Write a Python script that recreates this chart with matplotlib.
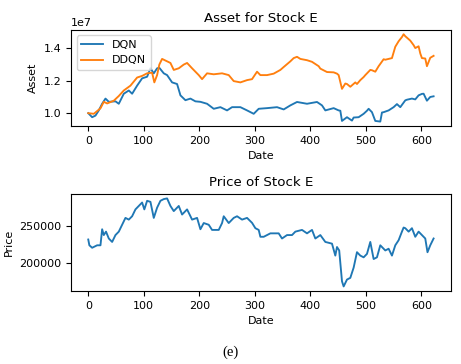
#!/usr/bin/env python3

import matplotlib
matplotlib.use("Agg")
import matplotlib.pyplot as plt

# Asset curves (values in units of 1e7)
dqn_days = [0, 7, 13, 19, 25, 31, 37, 49, 55, 64, 73, 79, 88, 97, 106, 112, 118, 124, 128,
            136, 142, 151, 160, 166, 175, 184, 193, 202, 214, 226, 238, 250, 259, 274, 286,
            298, 307, 322, 340, 352, 364, 376, 394, 412, 421, 427, 442, 451, 454, 457, 466,
            475, 478, 487, 496, 502, 505, 511, 517, 526, 529, 532, 541, 550, 556, 562, 571,
            574, 583, 589, 595, 601, 604, 610, 616, 622]
dqn_asset = [1.00, 0.975, 0.985, 1.017, 1.058, 1.09, 1.07, 1.073, 1.058, 1.12, 1.14, 1.12,
             1.17, 1.215, 1.225, 1.277, 1.246, 1.277, 1.28, 1.246, 1.235, 1.19, 1.18, 1.11,
             1.08, 1.09, 1.073, 1.07, 1.058, 1.027, 1.037, 1.017, 1.037, 1.037, 1.017, 0.996,
             1.027, 1.031, 1.037, 1.023, 1.048, 1.069, 1.058, 1.069, 1.048, 1.017, 1.031,
             1.017, 1.015, 0.952, 0.975, 0.954, 0.973, 0.975, 0.996, 1.015, 1.027, 1.006,
             0.952, 0.948, 1.004, 1.006, 1.017, 1.037, 1.056, 1.037, 1.079, 1.083, 1.09,
             1.085, 1.11, 1.119, 1.12, 1.077, 1.10, 1.104]

ddqn_days = [0, 10, 22, 28, 34, 46, 55, 64, 76, 88, 97, 106, 115, 119, 124, 128, 133, 142,
             148, 154, 163, 172, 178, 187, 199, 205, 214, 226, 241, 253, 262, 274, 286, 295,
             304, 310, 322, 334, 346, 352, 364, 370, 376, 382, 394, 403, 415, 418, 430, 442,
             448, 451, 457, 463, 466, 472, 481, 484, 490, 496, 499, 508, 511, 517, 523, 532,
             535, 547, 553, 559, 565, 568, 571, 580, 586, 589, 595, 598, 601, 607, 610, 616,
             622]
ddqn_asset = [1.00, 0.996, 1.03, 1.07, 1.06, 1.077, 1.106, 1.14, 1.17, 1.22, 1.23, 1.246,
              1.25, 1.19, 1.235, 1.30, 1.335, 1.32, 1.31, 1.267, 1.277, 1.30, 1.31, 1.277,
              1.235, 1.21, 1.246, 1.24, 1.246, 1.235, 1.198, 1.19, 1.204, 1.21, 1.256, 1.235,
              1.235, 1.244, 1.267, 1.285, 1.32, 1.34, 1.348, 1.335, 1.327, 1.317, 1.29, 1.275,
              1.254, 1.252, 1.244, 1.235, 1.15, 1.183, 1.18, 1.163, 1.19, 1.18, 1.204, 1.223,
              1.235, 1.267, 1.265, 1.256, 1.29, 1.333, 1.33, 1.34, 1.41, 1.444, 1.47, 1.4875,
              1.475, 1.448, 1.42, 1.402, 1.413, 1.369, 1.34, 1.3375, 1.29, 1.342, 1.354]

# Stock price
price_days = [0, 2, 7, 16, 22, 25, 28, 32, 37, 43, 49, 55, 61, 67, 73, 79, 85, 91, 97, 101,
              106, 112, 118, 124, 130, 136, 142, 148, 154, 163, 169, 178, 187, 196, 202, 208,
              217, 223, 235, 241, 244, 253, 262, 268, 277, 286, 295, 301, 307, 310, 316, 328,
              343, 349, 358, 367, 373, 385, 394, 403, 409, 418, 427, 439, 445, 448, 452, 457,
              460, 466, 472, 478, 484, 490, 496, 502, 508, 514, 520, 526, 535, 541, 547, 553,
              559, 565, 568, 571, 577, 583, 589, 595, 601, 607, 611, 616, 622]
price = [231650, 223900, 220600, 223900, 223900, 245400, 237600, 242200, 233000, 228400,
         237600, 242200, 251400, 260600, 258300, 262800, 272000, 276600, 281200, 272000,
         283500, 282100, 260600, 274300, 283500, 285800, 286700, 276600, 269700, 276600,
         265100, 272000, 258300, 260600, 245400, 253700, 251400, 244500, 244500, 253700,
         262800, 253700, 260600, 262800, 258300, 260600, 254000, 246800, 244500, 235300,
         235300, 239900, 239900, 233000, 237600, 237600, 242200, 244500, 239900, 244500,
         233000, 237600, 228400, 226100, 210100, 221600, 217000, 175700, 168800, 178000,
         180300, 194000, 214700, 210100, 207800, 212400, 228400, 205500, 207800, 223900,
         217000, 219300, 210100, 223900, 230700, 242200, 247700, 246800, 242200, 246800,
         235300, 242200, 237600, 233000, 214600, 223900, 233000]

plt.rcParams["font.size"] = 8

fig = plt.figure(figsize=(4.61, 3.64), dpi=100)

ax1 = fig.add_axes([0.154, 0.654, 0.824, 0.264])
ax1.plot(dqn_days, [v * 1e7 for v in dqn_asset], lw=1.35, label="DQN")
ax1.plot(ddqn_days, [v * 1e7 for v in ddqn_asset], lw=1.35, label="DDQN")
ax1.set_title("Asset for Stock E", fontsize=9.6)
ax1.set_xlabel("Date")
ax1.set_ylabel("Asset")
ax1.set_yticks([1.0e7, 1.2e7, 1.4e7])
ax1.legend(loc="upper left")

ax2 = fig.add_axes([0.154, 0.201, 0.824, 0.266])
ax2.plot(price_days, price, lw=1.35)
ax2.set_title("Price of Stock E", fontsize=9.6)
ax2.set_xlabel("Date")
ax2.set_ylabel("Price")
ax2.set_yticks([200000, 250000])

fig.text(0.5, 0.022, "(e)", ha="center", family="Liberation Serif", fontsize=10.5)

fig.savefig("out.png", dpi=100)
